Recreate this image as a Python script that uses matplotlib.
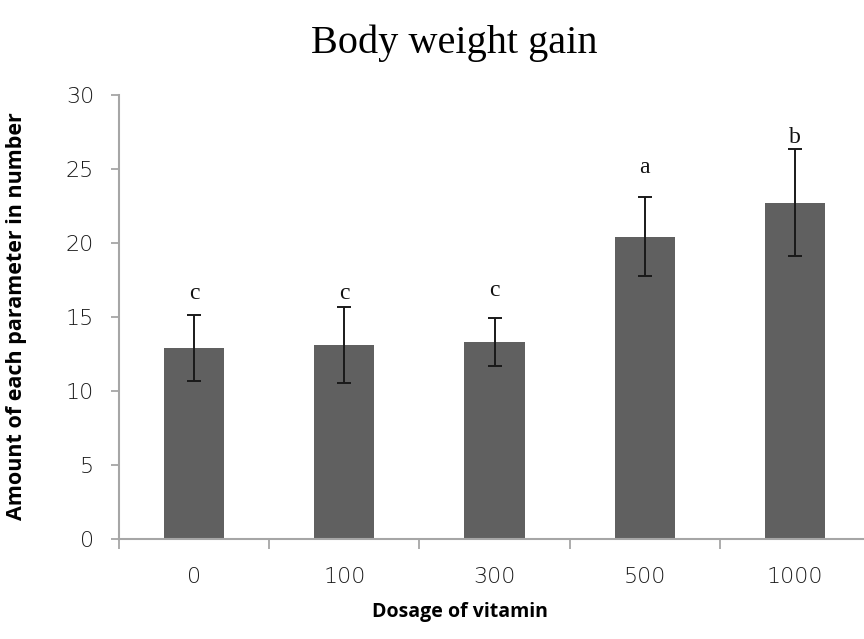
import numpy as np
import matplotlib
matplotlib.use("Agg")
import matplotlib.pyplot as plt

# dosage groups and measured body weight gain
dosage = ["0", "100", "300", "500", "1000"]
gain = [12.93, 13.13, 13.29, 20.43, 22.72]
gain_err = [2.23, 2.56, 1.63, 2.65, 3.60]
letters = ["c", "c", "c", "a", "b"]
letter_y = [16.6, 16.6, 16.8, 25.1, 27.1]
y_ticks = [0, 5, 10, 15, 20, 25, 30]

axis_grey = "#a6a6a6"

fig = plt.figure(figsize=(8.64, 6.39), dpi=100)
ax = fig.add_axes([119 / 864, 100 / 639, 751 / 864, 444 / 639])

x = np.arange(len(dosage))
ax.bar(x, gain, width=0.4, color="#606060", zorder=2)
ax.errorbar(x, gain, yerr=gain_err, fmt="none", ecolor="#1a1a1a",
            elinewidth=1.4, capsize=5, capthick=1.4, zorder=3)

for xi, lab, ly in zip(x, letters, letter_y):
    ax.text(xi, ly, lab, ha="center", va="center", fontsize=17,
            family="Liberation Serif", color="#111111")

ax.set_xlim(-0.5, len(dosage) - 0.5)
ax.set_ylim(0, 30)
ax.set_yticks(y_ticks)
ax.set_yticklabels([str(t) for t in y_ticks])

# category labels at bar centres, tick marks between categories
ax.set_xticks(x)
ax.set_xticklabels(dosage)
ax.set_xticks(np.arange(len(dosage) + 1) - 0.5, minor=True)
ax.tick_params(axis="x", which="major", length=0, pad=20)
ax.tick_params(axis="x", which="minor", length=7, width=1.3, color=axis_grey, direction="out")
ax.tick_params(axis="y", length=6, width=1.3, color=axis_grey, pad=12)

for lab in ax.get_xticklabels() + ax.get_yticklabels():
    lab.set_fontfamily("DejaVu Sans")
    lab.set_fontweight("light")
    lab.set_fontsize(16)
    lab.set_color("#1a1a1a")

for side in ["top", "right"]:
    ax.spines[side].set_visible(False)
for side in ["left", "bottom"]:
    ax.spines[side].set_color(axis_grey)
    ax.spines[side].set_linewidth(1.5)

fig.text(0.526, 0.932, "Body weight gain", ha="center", va="center",
         fontsize=29, family="Liberation Serif")
fig.text(0.532, 0.043, "Dosage of vitamin", ha="center", va="center",
         fontsize=14, fontweight="bold", family="Open Sans")
fig.text(0.019, 0.505, "Amount of each parameter in number", ha="center", va="center",
         rotation=90, fontsize=15.5, fontweight="bold", family="Open Sans")

fig.savefig("out.png", dpi=100)
